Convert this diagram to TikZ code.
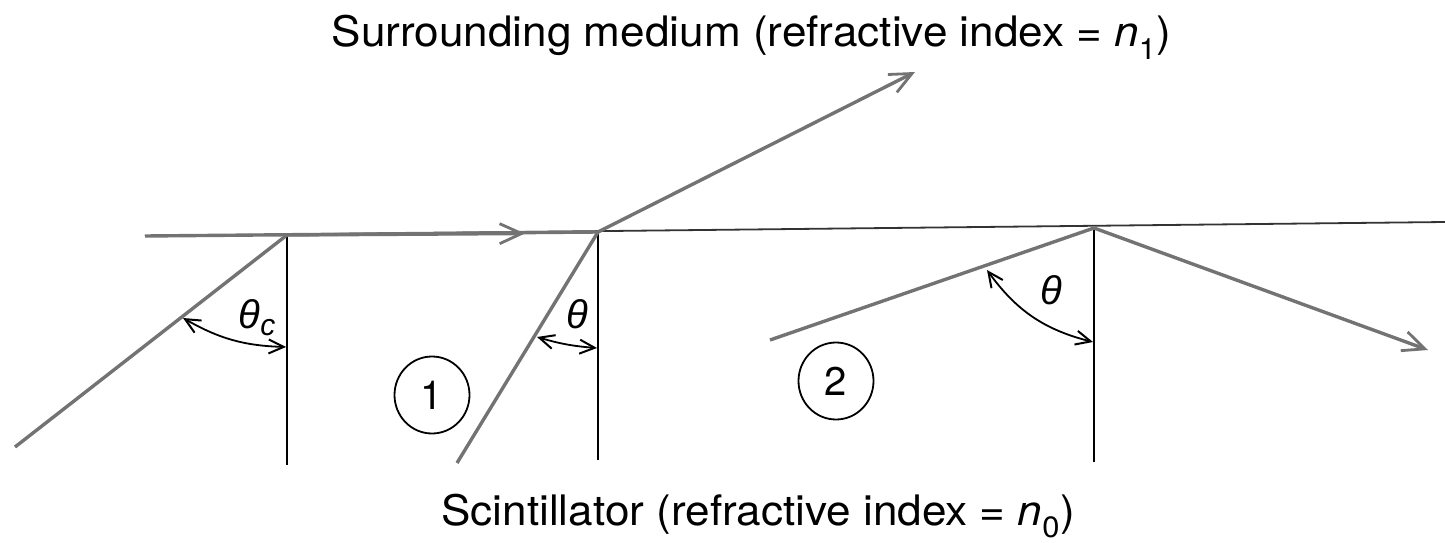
\documentclass[tikz,border=0pt]{standalone}
\usepackage{fontspec}
\setmainfont{TeX Gyre Heros}
\newfontfamily\grk{Liberation Sans}
\usetikzlibrary{arrows.meta,shapes.geometric}
\begin{document}
\begin{tikzpicture}[x=1pt,y=-1pt,
  ray/.style={draw=black!55,line width=3.4pt},
  rayarrow/.style={ray,-{Straight Barb[length=22pt,width=20pt,line width=2.8pt]}},
  normalline/.style={draw=black,line width=1.8pt},
  anglearrow/.style={draw=black,line width=1.8pt,{Straight Barb[length=15pt,width=14pt,line width=2pt]}-{Straight Barb[length=15pt,width=14pt,line width=2pt]}},
  lbl/.style={font=\fontsize{42}{48}\selectfont,inner sep=0pt},
  anglelbl/.style={font=\grk\itshape\fontsize{40}{46}\selectfont,inner sep=0pt},
  numcircle/.style={draw=black,line width=1.8pt,ellipse,minimum width=75pt,minimum height=77pt,inner sep=0pt,font=\fontsize{40}{46}\selectfont}
]
\useasboundingbox (0,0) rectangle (1445,543);
% interface
\coordinate (L) at (145,236);
\coordinate (R) at (1445,222);
\coordinate (I0) at (287,235);
\coordinate (I1) at (598,232);
\coordinate (I2) at (1094,228);
\coordinate (M0) at (525,233.5);
\draw[line width=1.8pt,draw=black!80] (L) -- (R);
\draw[ray] (L) -- (I1);
% normals
\coordinate (N0) at (287,465);
\coordinate (N1) at (598,460);
\coordinate (N2) at (1094,462);
\draw[normalline] (I0) -- (N0);
\draw[normalline] (I1) -- (N1);
\draw[normalline] (I2) -- (N2);
% rays
\coordinate (A0) at (15,447);
\coordinate (A1) at (457,463);
\coordinate (A2) at (770,340);
\coordinate (B1) at (915,72);
\coordinate (B2) at (1428,350);
\draw[ray] (A0) -- (I0);
\draw[rayarrow] (I0) -- (M0);
\draw[ray] (A1) -- (I1);
\draw[rayarrow] (I1) -- (B1);
\draw[ray] (A2) -- (I2);
\draw[rayarrow] (I2) -- (B2);
% angle arcs
\coordinate (P0) at (183,318);
\coordinate (Q0) at (286,347);
\coordinate (P1) at (537,337);
\coordinate (Q1) at (597,348);
\coordinate (P2) at (987,270);
\coordinate (Q2) at (1093,342);
\draw[anglearrow] (P0) to[bend right=14] (Q0);
\draw[anglearrow] (P1) to[bend right=6] (Q1);
\draw[anglearrow] (P2) to[bend right=20] (Q2);
\node[anglelbl] (t0) at (257,318) {θ\raisebox{-7pt}{\fontsize{30}{34}\selectfont c}};
\node[anglelbl] (t1) at (577,314) {θ};
\node[anglelbl] (t2) at (1051,290) {θ};
% circles
\node[numcircle] (c1) at (432,395) {1};
\node[numcircle] (c2) at (836,381) {2};
% texts
\node[lbl,anchor=base] (top) at (751.5,47) {\scalebox{1.05}[1]{Surrounding medium (refractive index = \textit{n}\textsubscript{1})}};
\node[lbl,anchor=base] (bot) at (758,525) {\scalebox{1.05}[1]{Scintillator (refractive index = \textit{n}\textsubscript{0})}};
\end{tikzpicture}
\end{document}
